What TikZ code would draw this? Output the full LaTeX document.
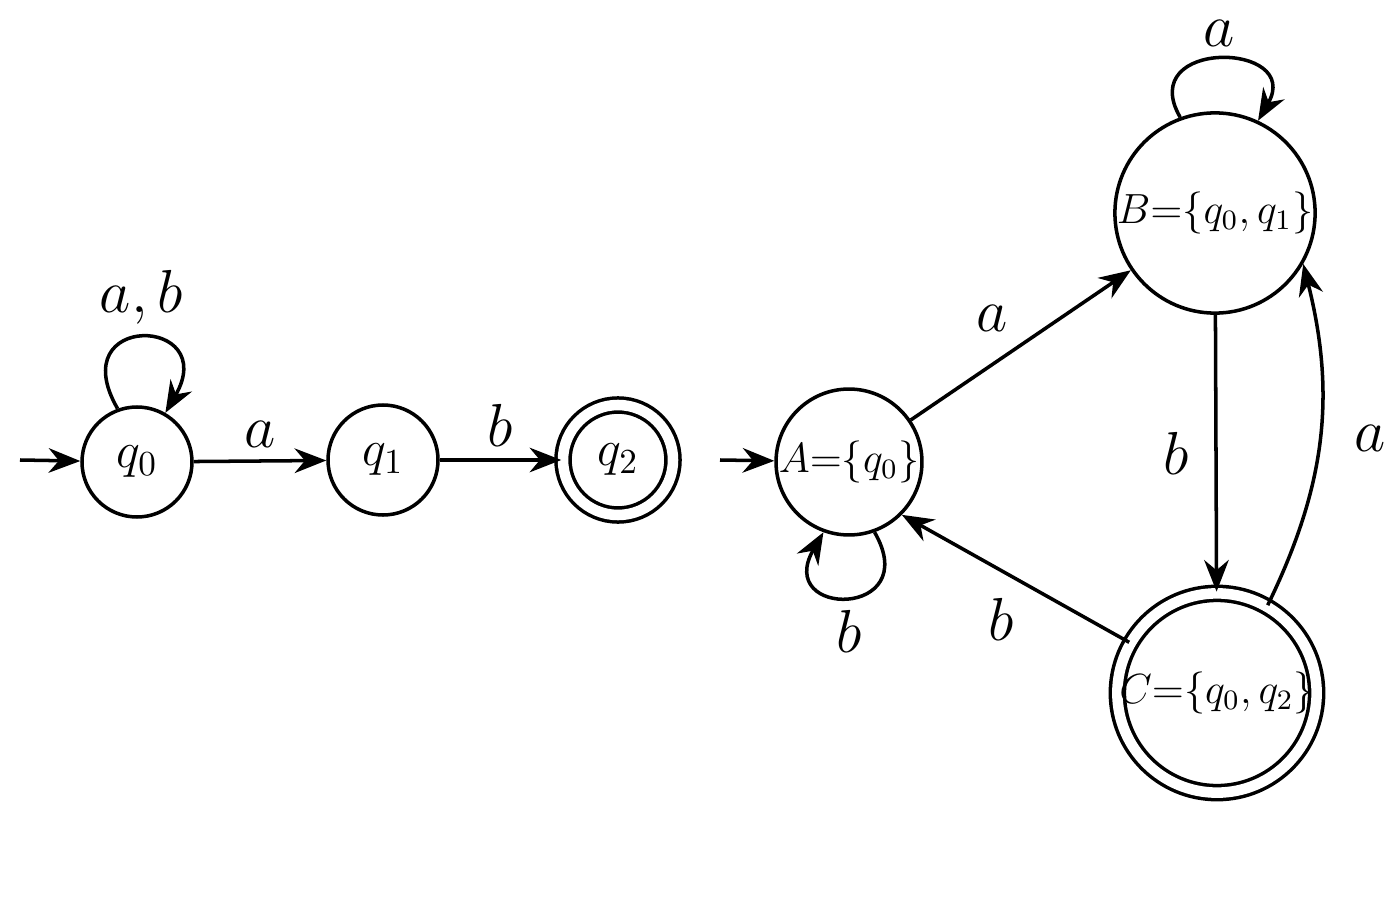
\documentclass[tikz,border=0pt]{standalone}
\usepackage{amsmath}
\usetikzlibrary{arrows.meta}
\begin{document}
\begin{tikzpicture}[%
% common options for states:
state/.style = {circle, draw, line width=1pt, align=center, inner sep=0},
accept/.style = {state, double, double distance=3pt},
% common options for edges:
edge/.style = {-{Stealth[length=9pt,width=7pt]}, line width=1pt},
lbl/.style = {font=\LARGE}]
\useasboundingbox (0,0) rectangle (14,9);
% left automaton
\node[state,minimum size=1.1cm,font=\Large] (q0) at (1.37,4.38) {$q_0$};
\node[state,minimum size=1.1cm,font=\Large] (q1) at (3.83,4.40) {$q_1$};
\node[accept,minimum size=1.1cm,font=\Large] (q2) at (6.18,4.40) {$q_2$};
\coordinate (s0) at (0.2,4.40);
\draw[edge] (s0) to (q0);
\draw[edge] (q0) to node[lbl,above] {$a$} (q1);
\draw[edge] (q1) to node[lbl,above] {$b$} (q2);
\draw[edge] (q0.110) to[out=120,in=60,looseness=6] node[lbl,above] {$a,b$} (q0.60);
% right automaton
\node[state,minimum size=1.2cm,font=\large] (A) at (8.49,4.38) {$A{=}\{q_0\}$};
\node[state,minimum size=1.7cm,font=\large] (B) at (12.15,6.87) {$B{=}\{q_0,q_1\}$};
\node[accept,minimum size=1.95cm,font=\large] (C) at (12.17,2.07) {$C{=}\{q_0,q_2\}$};
\coordinate (s1) at (7.2,4.40);
\draw[edge] (s1) to (A);
\draw[edge] (A) to node[lbl,above left] {$a$} (B);
\draw[edge] (B) to node[lbl,left=4pt] {$b$} (C);
\draw[edge] (C.60) to[bend right=20] node[lbl,right=6pt] {$a$} (B.-30);
\draw[edge] (C.150) to node[lbl,below left,pos=0.45] {$b$} (A.-45);
\draw[edge] (A.-70) to[out=-60,in=-120,looseness=5] node[lbl,below] {$b$} (A.-110);
\draw[edge] (B.110) to[out=120,in=60,looseness=3] node[lbl,above] {$a$} (B.65);
\end{tikzpicture}
\end{document}
